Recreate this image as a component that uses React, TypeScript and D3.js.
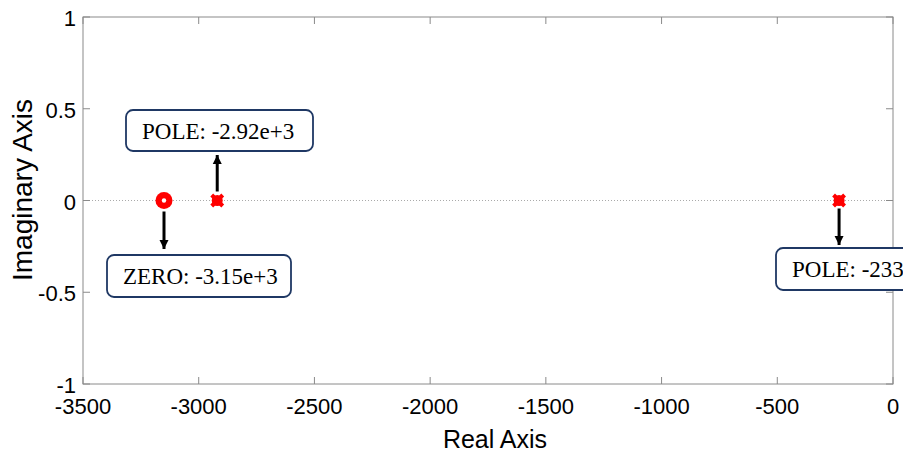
import React from "react";
import * as d3 from "d3";

const xTicks = [-3500, -3000, -2500, -2000, -1500, -1000, -500, 0];
const yTicks = [1, 0.5, 0, -0.5, -1];
const zeros = [-3150];
const poles = [-2920, -233];
const annotations = [
  { label: "POLE: -2.92e+3", re: -2920, dir: "up" },
  { label: "ZERO: -3.15e+3", re: -3150, dir: "down" },
  { label: "POLE: -233", re: -233, dir: "down" },
];

const W = 903, H = 456;
const left = 83, right = 893, top = 17, bottom = 384;
const sans = "Liberation Sans, Arial, sans-serif";
const serif = "Liberation Serif, Times New Roman, serif";

export default function App() {
  const x = d3.scaleLinear().domain([-3500, 0]).range([left, right]);
  const y = d3.scaleLinear().domain([-1, 1]).range([bottom, top]);
  const y0 = y(0);
  const boxes: Record<string, { bx: number; by: number; bw: number; bh: number; a1: number; a2: number }> = {
    "POLE: -2.92e+3": { bx: 126, by: 110, bw: 187, bh: 41, a1: y0 - 9, a2: 155 },
    "ZERO: -3.15e+3": { bx: 107, by: 255, bw: 184, bh: 42, a1: y0 + 11, a2: 249 },
    "POLE: -233": { bx: 776, by: 248, bw: 140, bh: 42, a1: y0 + 8, a2: 245 },
  };
  return (
    <svg width={W} height={H} style={{ position: "absolute", left: 0, top: 0, background: "#fff" }}>
      <defs>
        <marker id="ah" viewBox="0 0 10 10" refX="10" refY="5" markerWidth="9" markerHeight="10" markerUnits="userSpaceOnUse" orient="auto">
          <path d="M0,0 L10,5 L0,10 z" fill="#000" />
        </marker>
      </defs>
      <line x1={left} x2={right} y1={y0} y2={y0} stroke="#aaa" strokeWidth={1} strokeDasharray="1,2" />
      <rect x={left} y={top} width={right - left} height={bottom - top} fill="none" stroke="#8a8a8a" strokeWidth={1} />
      {xTicks.map((t) => (
        <g key={"x" + t}>
          <line x1={x(t)} x2={x(t)} y1={bottom} y2={bottom - 7} stroke="#8a8a8a" />
          <line x1={x(t)} x2={x(t)} y1={top} y2={top + 7} stroke="#8a8a8a" />
          <text x={x(t)} y={bottom + 30} textAnchor="middle" fontFamily={sans} fontSize={22} fill="#000">{t}</text>
        </g>
      ))}
      {yTicks.map((t) => (
        <g key={"y" + t}>
          <line x1={left} x2={left + 7} y1={y(t)} y2={y(t)} stroke="#8a8a8a" />
          <line x1={right} x2={right - 7} y1={y(t)} y2={y(t)} stroke="#8a8a8a" />
          <text x={left - 7} y={y(t) + 9} textAnchor="end" fontFamily={sans} fontSize={22} fill="#000">{t}</text>
        </g>
      ))}
      <text x={495} y={448} textAnchor="middle" fontFamily={sans} fontSize={25} fill="#000">Real Axis</text>
      <text transform={`translate(32,190) rotate(-90)`} textAnchor="middle" fontFamily={sans} fontSize={28} fill="#000">Imaginary Axis</text>
      {zeros.map((z) => (
        <g key={"z" + z}>
          <circle cx={x(z)} cy={y0} r={8.5} fill="#ff0000" />
          <circle cx={x(z)} cy={y0} r={2.2} fill="#fff" />
        </g>
      ))}
      {poles.map((p) => (
        <g key={"p" + p}>
          <circle cx={x(p)} cy={y0} r={5.5} fill="#ff0000" />
          <path d={`M${x(p) - 5.5},${y0 - 5.5}L${x(p) + 5.5},${y0 + 5.5}M${x(p) - 5.5},${y0 + 5.5}L${x(p) + 5.5},${y0 - 5.5}`} stroke="#ff0000" strokeWidth={4} />
        </g>
      ))}
      {annotations.map((a) => {
        const b = boxes[a.label];
        const ax = x(a.re);
        return (
          <g key={a.label}>
            <line x1={ax} x2={ax} y1={b.a1} y2={b.a2} stroke="#000" strokeWidth={3} markerEnd="url(#ah)" />
            <rect x={b.bx} y={b.by} width={b.bw} height={b.bh} rx={7} fill="#fff" stroke="#1f3864" strokeWidth={1.8} />
            <text x={b.bx + 16} y={b.by + 29} fontFamily={serif} fontSize={23} fill="#000">{a.label}</text>
          </g>
        );
      })}
    </svg>
  );
}
